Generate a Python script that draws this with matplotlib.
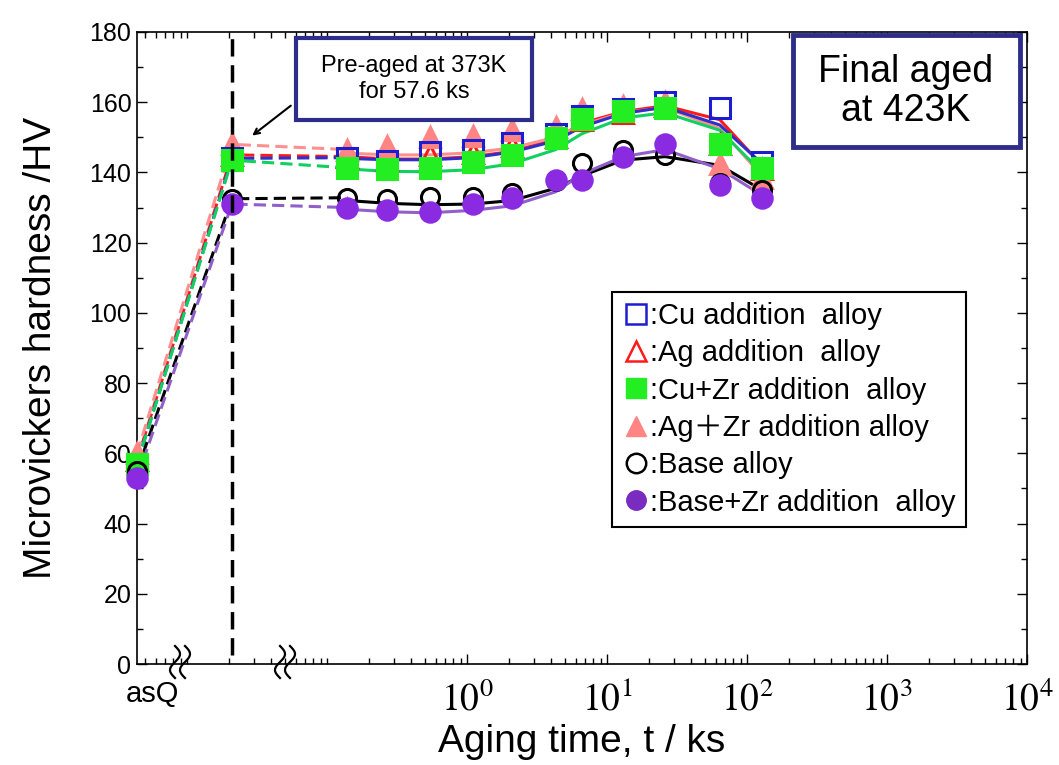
import numpy as np
import matplotlib
matplotlib.use("Agg")
import matplotlib.pyplot as plt
from matplotlib.lines import Line2D
from matplotlib.patches import Rectangle
from matplotlib.ticker import FixedLocator, LogLocator, NullFormatter, MultipleLocator

plt.rcParams['font.family'] = ['Liberation Sans', 'DejaVu Sans']
plt.rcParams['mathtext.fontset'] = 'stix'

# positions on the broken part of the axis (as-quenched, pre-aged)
x_asq = 10 ** -2.357
x_pre = 10 ** -1.679

# final ageing times, ks
t_final = [0.14, 0.27, 0.54, 1.1, 2.1, 4.3, 6.6, 13, 26, 64, 128]

# hardness: as-quenched, pre-aged, final aged
cu_asq, cu_pre = 57, 144
cu = [144.2, 143.3, 145.8, 146.3, 148.4, 151, 156, 158, 160, 158.4, 143]
ag_asq, ag_pre = 58, 145
ag = [144.5, 143.5, 145, 145.5, 147.5, 150, 155, 157, 159, 148, 141]
cuzr_asq, cuzr_pre = 57, 143.5
cuzr = [141.3, 141, 141.3, 143, 145, 149.8, 155.3, 157.5, 158.4, 148, 141.3]
agzr_asq, agzr_pre = 60, 148
agzr = [146.5, 147.5, 150, 150.5, 152, 153, 158, 159, 160, 142.5, 138.5]
base_asq, base_pre = 55, 132.5
base = [132.8, 132.5, 133, 133, 134, 137.5, 142.6, 146.3, 145, 137, 135]
basezr_asq, basezr_pre = 53, 131
basezr = [130, 129.4, 128.7, 131, 132.6, 137.8, 137.8, 144.3, 148.2, 136.4, 132.6]

# fitted curves read at the same times
cu_fit = [144.0, 143.6, 143.6, 144.2, 145.8, 149.0, 153.0, 156.8, 158.6, 153.5, 142.5]
ag_fit = [144.5, 143.8, 143.8, 144.5, 146.0, 149.5, 154.0, 157.3, 159.0, 155.0, 142.0]
cuzr_fit = [141.0, 140.3, 140.2, 140.8, 142.5, 146.5, 151.0, 155.5, 157.0, 152.0, 140.0]
agzr_fit = [145.5, 145.0, 145.0, 145.6, 147.0, 150.0, 153.5, 157.0, 158.5, 152.5, 139.0]
base_fit = [132.0, 131.2, 130.8, 131.0, 132.0, 135.5, 139.0, 143.5, 144.5, 142.0, 135.0]
basezr_fit = [129.5, 128.8, 128.5, 129.2, 130.5, 134.5, 139.5, 144.5, 146.5, 141.0, 133.5]

labels = [':Cu addition  alloy', ':Ag addition  alloy', ':Cu+Zr addition  alloy',
          ':Ag\uff0bZr addition alloy', ':Base alloy', ':Base+Zr addition  alloy']

fig = plt.figure(figsize=(10.59, 7.65), dpi=100)
ax = fig.add_axes([0.1294, 0.1320, 0.8404, 0.8262])

# (asq, pre, data, fit, line colour, marker, face, edge, size)
series = [
    (ag_asq, ag_pre, ag, ag_fit, '#ff1a1a', '^', 'none', '#ff1a1a', 15),
    (agzr_asq, agzr_pre, agzr, agzr_fit, '#ff9090', '^', '#ff8585', '#ff8585', 15),
    (cu_asq, cu_pre, cu, cu_fit, '#3030c8', 's', 'none', '#1c1cd0', 14),
    (cuzr_asq, cuzr_pre, cuzr, cuzr_fit, '#10d060', 's', '#22ee22', '#22ee22', 15),
    (base_asq, base_pre, base, base_fit, 'black', 'o', 'none', 'black', 13),
    (basezr_asq, basezr_pre, basezr, basezr_fit, '#9060c8', 'o', '#8a2be2', '#8a2be2', 14),
]

for asq, pre, vals, fit, lc, mk, fc, ec, ms in series:
    ax.plot([x_asq, x_pre, t_final[0]], [asq, pre, vals[0]], color=lc, lw=2.2,
            ls=(0, (4, 2)), clip_on=False, zorder=2)
    ax.plot(t_final, fit, color=lc, lw=2.2, zorder=2)
for asq, pre, vals, fit, lc, mk, fc, ec, ms in series:
    ax.plot([x_asq, x_pre] + t_final, [asq, pre] + vals, ls='none', marker=mk,
            ms=ms, mfc=fc, mec=ec, mew=2.2, clip_on=False, zorder=3)

ax.axvline(x_pre, ymin=0.015, ymax=1, color='black', lw=2.5, ls=(0, (5, 2.5)), zorder=4)

ax.set_xscale('log')
ax.set_xlim(x_asq, 1e4)
ax.set_ylim(0, 180)

ax.xaxis.set_major_locator(FixedLocator([1e0, 1e1, 1e2, 1e3, 1e4]))
ax.set_xticklabels([r'$10^{0}$', r'$10^{1}$', r'$10^{2}$', r'$10^{3}$', r'$10^{4}$'])
ax.xaxis.set_minor_locator(LogLocator(base=10, subs=np.arange(1, 10), numticks=50))
ax.xaxis.set_minor_formatter(NullFormatter())
ax.yaxis.set_major_locator(MultipleLocator(20))
ax.yaxis.set_minor_locator(MultipleLocator(10))
ax.tick_params(which='both', direction='in', top=True, right=True, width=1)
ax.tick_params(which='major', length=7)
ax.tick_params(which='minor', length=4)
ax.tick_params(axis='y', labelsize=18, pad=4)
ax.tick_params(axis='x', labelsize=27, pad=13)
for spine in ax.spines.values():
    spine.set_linewidth(1.2)

ax.set_ylabel('Microvickers hardness /HV', fontsize=28, labelpad=22)
ax.set_xlabel('Aging time, t / ks', fontsize=28, labelpad=4)
ax.text(0.017, -0.047, 'asQ', transform=ax.transAxes, fontsize=21, ha='center', va='center')

# axis break marks
for bx in [180, 285]:
    s = np.linspace(0, 1, 40)
    for dx in [-5, 5]:
        xs = (bx + dx + 5 * np.sin(2 * np.pi * s)) / 1059
        ys = (765 - (646 + 32 * s)) / 765
        fig.add_artist(Line2D(xs, ys, color='black', lw=1.6, transform=fig.transFigure))

# annotation boxes
ax.add_patch(Rectangle((0.179, 0.861), 0.265, 0.130, transform=ax.transAxes,
                       facecolor='white', edgecolor='#2e2e8a', lw=3, zorder=5))
ax.text(0.311, 0.926, 'Pre-aged at 373K\nfor 57.6 ks', transform=ax.transAxes,
        ha='center', va='center', fontsize=17, zorder=6, linespacing=1.25)
ax.annotate('', xy=(10 ** -1.55, 150), xytext=(10 ** -1.243, 159.5),
            arrowprops=dict(arrowstyle='->', color='black', lw=1.5), zorder=6)

ax.add_patch(Rectangle((0.737, 0.818), 0.255, 0.177, transform=ax.transAxes,
                       facecolor='white', edgecolor='#2e2e8a', lw=3.5, zorder=5))
ax.text(0.864, 0.906, 'Final aged\nat 423K', transform=ax.transAxes,
        ha='center', va='center', fontsize=27, zorder=6, linespacing=1.1)

handles = [
    Line2D([], [], ls='none', marker='s', ms=14, mfc='none', mec='#1c1cd0', mew=1.8),
    Line2D([], [], ls='none', marker='^', ms=14, mfc='none', mec='#ff1a1a', mew=1.8),
    Line2D([], [], ls='none', marker='s', ms=14, mfc='#22ee22', mec='#22ee22'),
    Line2D([], [], ls='none', marker='^', ms=14, mfc='#ff8585', mec='#ff8585'),
    Line2D([], [], ls='none', marker='o', ms=14, mfc='none', mec='black', mew=1.8),
    Line2D([], [], ls='none', marker='o', ms=14, mfc='#7a2cc0', mec='#7a2cc0'),
]
leg = ax.legend(handles, labels, loc='upper left', bbox_to_anchor=(0.534, 0.589),
                frameon=True, fancybox=False, framealpha=1,
                edgecolor='black', borderpad=0.35, handletextpad=0.05,
                handlelength=0.9, labelspacing=0.32, borderaxespad=0,
                prop={'family': ['Liberation Sans', 'Noto Sans CJK JP'], 'size': 21})
leg.get_frame().set_linewidth(1.5)

fig.savefig('out.png', dpi=100)
